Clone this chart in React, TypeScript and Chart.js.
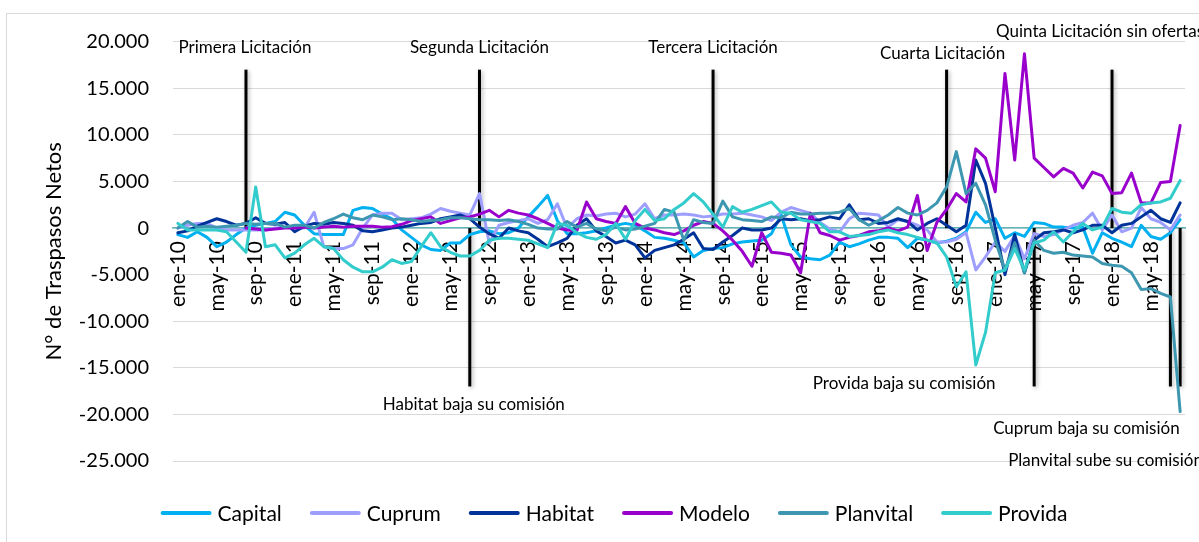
import React, { useEffect, useRef } from "react";
import { Chart, registerables } from "chart.js";

Chart.register(...registerables);

const categories = [
  "ene-10","feb-10","mar-10","abr-10","may-10","jun-10","jul-10","ago-10","sep-10","oct-10","nov-10","dic-10",
  "ene-11","feb-11","mar-11","abr-11","may-11","jun-11","jul-11","ago-11","sep-11","oct-11","nov-11","dic-11",
  "ene-12","feb-12","mar-12","abr-12","may-12","jun-12","jul-12","ago-12","sep-12","oct-12","nov-12","dic-12",
  "ene-13","feb-13","mar-13","abr-13","may-13","jun-13","jul-13","ago-13","sep-13","oct-13","nov-13","dic-13",
  "ene-14","feb-14","mar-14","abr-14","may-14","jun-14","jul-14","ago-14","sep-14","oct-14","nov-14","dic-14",
  "ene-15","feb-15","mar-15","abr-15","may-15","jun-15","jul-15","ago-15","sep-15","oct-15","nov-15","dic-15",
  "ene-16","feb-16","mar-16","abr-16","may-16","jun-16","jul-16","ago-16","sep-16","oct-16","nov-16","dic-16",
  "ene-17","feb-17","mar-17","abr-17","may-17","jun-17","jul-17","ago-17","sep-17","oct-17","nov-17","dic-17",
  "ene-18","feb-18","mar-18","abr-18","may-18","jun-18","jul-18","ago-18",
];

const tickLabels = [
  "ene-10","may-10","sep-10","ene-11","may-11","sep-11","ene-12","may-12","sep-12",
  "ene-13","may-13","sep-13","ene-14","may-14","sep-14","ene-15","may-15","sep-15",
  "ene-16","may-16","sep-16","ene-17","may-17","sep-17","ene-18","may-18",
];

const yTicks = [-25000, -20000, -15000, -10000, -5000, 0, 5000, 10000, 15000, 20000];

const capital = [
  -700, -1000, -400, -1000, -2000, -1500, -700, 0, 300, 500,
  700, 1700, 1400, 300, -600, -700, -700, -700, 1900, 2200,
  2100, 1500, 1000, -200, -1000, -1800, -2300, -2400, -1600, -1600,
  -700, -400, -300, -600, -500, 0, 1200, 2300, 3500, 800,
  -600, -600, -500, -300, 0, 300, 500, 300, -300, -1000,
  -1100, -1300, -1600, -3100, -2400, -2200, -2100, -1700, -1500, -1400,
  -1300, -600, 1400, -1800, -3100, -3300, -3400, -2900, -1500, -2000,
  -1700, -1300, -1000, -1000, -1100, -2100, -1100, -1300, -1600, -1400,
  -1100, -400, 1700, 600, 1000, -1100, -500, -900, 600, 500,
  100, 100, 0, 100, -2700, -500, -1100, -1500, -2000, 300,
  -900, -1200, -500, 900,
];

const cuprum = [
  0, 300, 500, 500, 0, -200, -200, -200, -200, -200,
  0, 100, 0, 0, 1700, -2000, -2200, -2200, -1800, 0,
  1400, 1600, 1600, 900, 1000, 1100, 1500, 2100, 1800, 1600,
  1400, 3700, -1600, 300, 600, 800, 1000, 500, 900, 2600,
  0, 1000, 1400, 1300, 1500, 1600, 1200, 1500, 2600, 1000,
  1400, 1400, 1500, 1400, 1200, 1300, 1500, 1500, 1600, 1400,
  1200, 800, 1700, 2200, 1900, 1600, 600, -100, -400, 1000,
  1600, 1500, 1400, 100, 900, 700, 300, -200, -1500, -1500,
  -1200, -500, -4500, -3100, -1500, -2500, -800, -3300, -600, -900,
  -700, -200, 300, 600, 1600, -200, 1400, -400, 0, 2200,
  1000, 600, -200, 1400,
];

const habitat = [
  -500, -300, 200, 600, 1000, 700, 300, 500, 1100, 500,
  400, 600, -400, 200, 500, 400, 600, 500, 300, -300,
  -400, -200, 0, 100, 300, 500, 600, 1000, 1200, 1400,
  1000, 100, -600, -1100, 0, -300, -500, -1200, -2000, -1600,
  -1100, 300, 1000, -300, -900, -1600, -1300, -1800, -3200, -2400,
  -2100, -1800, -1200, -500, -2200, -2300, -1500, -800, 0, -200,
  -200, 0, 1000, 900, 1000, 800, 900, 1200, 1000, 2500,
  900, 1000, 500, 600, 1000, 700, -200, 500, 1000, 300,
  -400, 300, 7300, 4800, 0, -5000, -700, -4800, -1300, -500,
  -400, -200, -500, -200, 300, 300, -500, 300, 500, 1200,
  1900, 1000, 600, 2700,
];

const modelo = [
  null, null, null, null, null, null, null, 0, -100, -200,
  -100, 0, 0, 100, 0, 100, 200, 100, 200, 200,
  200, 100, 150, 400, 800, 1000, 1200, 500, 800, 1100,
  1200, 1500, 1900, 1200, 1900, 1600, 1400, 1000, 500, 0,
  -200, -300, 2800, 1000, 700, 500, 2300, 500, 0, -200,
  -500, -700, -300, 300, 700, 500, -300, -1300, -2500, -4100,
  -500, -2600, -2700, -2900, -4800, 1600, -500, -800, -1300, -1000,
  -800, -400, -300, 0, -300, 100, 3500, -2400, 600, 2000,
  3700, 2800, 8500, 7500, 3900, 16600, 7300, 18700, 7500, 6500,
  5500, 6400, 5900, 4300, 6000, 5600, 3700, 3800, 5900, 2700,
  2700, 4900, 5000, 11000,
];

const planvital = [
  0, 700, 100, 200, 100, 200, 300, 500, 400, 500,
  500, 100, 300, 300, 0, 600, 1000, 1500, 1100, 900,
  1400, 1200, 900, 1000, 900, 700, 800, 900, 1100, 1100,
  1000, 900, 900, 800, 900, 700, 400, 0, -100, -100,
  700, 100, 500, -100, -300, 100, -200, -100, 200, 500,
  2000, 1700, -1300, 900, 600, 500, 2900, 1200, 900, 800,
  700, 1200, 1100, 1700, 1500, 1500, 1600, 1600, 1700, 2100,
  900, 300, 800, 1400, 2200, 1600, 1400, 1900, 2700, 4400,
  8200, 3700, 4800, 2500, -1300, -4500, -1600, -4800, -1300, -2400,
  -2700, -2600, -2900, -3000, -3100, -3800, -4000, -4100, -4800, -6600,
  -6500, -7000, -7400, -19700,
];

const provida = [
  500, -200, -200, -200, -200, -400, -1500, -2600, 4400, -2000,
  -1800, -3200, -2700, -1800, -1100, -2000, -2200, -3400, -4200, -4700,
  -4700, -4200, -3400, -3800, -3600, -2000, -500, -2000, -2600, -3000,
  -3000, -2400, -1300, -1100, -1100, -1200, -1300, -1700, -2100, 500,
  300, -500, -1000, -1200, -700, 500, -1200, 800, 2000, 800,
  1000, 2000, 2700, 3700, 2800, 1500, 100, 2300, 1700, 2000,
  2400, 2800, 1700, 1600, 900, 700, 500, -400, -400, -900,
  -800, -700, -400, -200, -500, -700, -1000, -1300, -1600, -3100,
  -6300, -4700, -14700, -11200, -4800, -4500, -2200, -4500, -1600, -1300,
  -400, -1500, -400, 500, -200, 100, 2100, 1700, 1600, 2500,
  2700, 2800, 3200, 5100,
];

const seriesNames = ["Capital", "Cuprum", "Habitat", "Modelo", "Planvital", "Provida"];
const seriesValues = [capital, cuprum, habitat, modelo, planvital, provida];
const seriesColors = ["#00B0F0", "#9E9EFF", "#003399", "#9900CC", "#3E97B0", "#33CCCC"];

const annotationMonths = ["ago-10", "ago-12", "ago-14", "ago-16", "ene-18", "jul-12", "may-17", "jul-18", "ago-18"];
const annotationTexts = [
  "Primera Licitación",
  "Segunda Licitación",
  "Tercera Licitación",
  "Cuarta Licitación",
  "Quinta Licitación sin ofertas",
  "Habitat baja su comisión",
  "Provida baja su comisión",
  "Cuprum baja su comisión",
  "Planvital sube su comisión",
];
const annotationEnds = [17000, 17000, 17000, 17000, 17000, -17000, -17000, -17000, -17000];

// label placement (style): horizontal offset from line, baseline y (px), alignment, font size
const annotationLayout = [
  { dx: -1, y: 53, align: "center", size: 17 },
  { dx: 0, y: 53, align: "center", size: 17 },
  { dx: 0, y: 53, align: "center", size: 17 },
  { dx: -4, y: 59, align: "center", size: 17 },
  { dx: -116, y: 37, align: "left", size: 17 },
  { dx: 4, y: 410, align: "center", size: 17 },
  { dx: -130, y: 389, align: "center", size: 17 },
  { dx: -84, y: 434, align: "center", size: 17 },
  { dx: -172, y: 466, align: "left", size: 17 },
];

const FONT = "Lato, 'Noto Sans', sans-serif";

function fmt(v: number): string {
  const s = Math.abs(v).toString().replace(/\B(?=(\d{3})+(?!\d))/g, ".");
  return (v < 0 ? "-" : "") + s;
}

const framePlugin = {
  id: "frame",
  beforeDraw(chart: any) {
    const ctx = chart.ctx;
    ctx.save();
    ctx.fillStyle = "#ffffff";
    ctx.fillRect(0, 0, chart.width, chart.height);
    ctx.strokeStyle = "#d9d9d9";
    ctx.lineWidth = 1;
    ctx.strokeRect(6.5, 13.5, 1400, 800);
    ctx.restore();
  },
};

const annotationPlugin = {
  id: "annotations",
  beforeDatasetsDraw(chart: any) {
    const { ctx, scales } = chart;
    const x = scales.x;
    const y = scales.y;
    ctx.save();
    ctx.strokeStyle = "#000000";
    ctx.lineWidth = 3;
    ctx.shadowColor = "rgba(0,0,0,0.3)";
    ctx.shadowBlur = 4;
    ctx.shadowOffsetX = 1.5;
    ctx.shadowOffsetY = 1.5;
    annotationMonths.forEach((m, i) => {
      const px = x.getPixelForValue(categories.indexOf(m));
      ctx.beginPath();
      ctx.moveTo(px, y.getPixelForValue(0));
      ctx.lineTo(px, y.getPixelForValue(annotationEnds[i]));
      ctx.stroke();
    });
    ctx.restore();
  },
  afterDraw(chart: any) {
    const { ctx, scales } = chart;
    const x = scales.x;
    ctx.save();
    ctx.fillStyle = "#000000";
    ctx.textBaseline = "alphabetic";
    annotationTexts.forEach((t, i) => {
      const lay = annotationLayout[i];
      const px = x.getPixelForValue(categories.indexOf(annotationMonths[i]));
      ctx.font = `${lay.size}px ${FONT}`;
      ctx.textAlign = lay.align;
      ctx.fillText(t, px + lay.dx, lay.y);
    });
    ctx.restore();
  },
};

const legendPlugin = {
  id: "customLegend",
  afterDraw(chart: any) {
    const ctx = chart.ctx;
    const ds = chart.data.datasets;
    ctx.save();
    ctx.font = `21px ${FONT}`;
    const lineLen = 51;
    const gapText = 6;
    const gapItem = 28;
    const widths = ds.map((d: any) => ctx.measureText(d.label).width);
    const total =
      widths.reduce((a: number, w: number) => a + lineLen + gapText + w, 0) + gapItem * (ds.length - 1);
    let cx = 614 - total / 2;
    const cy = 513;
    ctx.textBaseline = "middle";
    ctx.textAlign = "left";
    ds.forEach((d: any, i: number) => {
      ctx.strokeStyle = d.borderColor;
      ctx.lineWidth = 4;
      ctx.lineCap = "round";
      ctx.beginPath();
      ctx.moveTo(cx + 2, cy);
      ctx.lineTo(cx + lineLen - 2, cy);
      ctx.stroke();
      ctx.fillStyle = "#000000";
      ctx.fillText(d.label, cx + lineLen + gapText, cy + 1);
      cx += lineLen + gapText + widths[i] + gapItem;
    });
    ctx.restore();
  },
};

export default function App() {
  const canvasRef = useRef<HTMLCanvasElement | null>(null);

  useEffect(() => {
    if (!canvasRef.current) return;
    const datasets = seriesNames.map((name, i) => ({
      label: name,
      data: seriesValues[i],
      borderColor: seriesColors[i],
      backgroundColor: seriesColors[i],
      borderWidth: 3,
      pointRadius: 0,
      tension: 0,
      fill: false,
      borderJoinStyle: "round" as const,
      borderCapStyle: "round" as const,
      order: seriesNames.length - i,
    }));

    const chart = new Chart(canvasRef.current, {
      type: "line",
      data: { labels: categories, datasets },
      options: {
        responsive: false,
        animation: false,
        layout: { padding: { left: 0, right: 14, top: 41.7, bottom: 81 } },
        plugins: {
          legend: { display: false },
          tooltip: { enabled: false },
          title: { display: false },
        },
        scales: {
          x: {
            type: "category",
            position: { y: 0 } as any,
            offset: true,
            afterFit: (scale: any) => {
              scale.paddingLeft = 0;
              scale.paddingRight = 0;
              scale.paddingTop = 0;
              scale.paddingBottom = 0;
            },
            grid: { display: false, drawTicks: false },
            border: { display: true, color: "#63b5b8", width: 1.5 },
            ticks: {
              autoSkip: false,
              minRotation: 90,
              maxRotation: 90,
              padding: 13,
              color: "#000000",
              font: { family: FONT, size: 21 },
              callback: (_v: any, i: number) => (tickLabels.includes(categories[i]) ? categories[i] : ""),
            },
          },
          y: {
            type: "linear",
            min: yTicks[0],
            max: yTicks[yTicks.length - 1],
            afterBuildTicks: (scale: any) => {
              scale.ticks = yTicks.map((v) => ({ value: v }));
            },
            afterFit: (scale: any) => {
              scale.width = 173;
            },
            grid: { color: "#d9d9d9", lineWidth: 1, drawTicks: false },
            border: { display: false },
            ticks: {
              padding: 24,
              color: "#000000",
              font: { family: FONT, size: 20 },
              callback: (v: any) => fmt(Number(v)),
            },
            title: {
              display: true,
              text: "N° de Traspasos Netos",
              color: "#000000",
              font: { family: FONT, size: 22 },
              padding: { top: 41, bottom: 0 },
            },
          },
        },
      },
      plugins: [framePlugin, annotationPlugin, legendPlugin],
    });

    return () => chart.destroy();
  }, []);

  return (
    <div style={{ position: "fixed", left: 0, top: 0, width: 1199, height: 542, background: "#fff" }}>
      <canvas ref={canvasRef} width={1199} height={542} style={{ display: "block" }} />
    </div>
  );
}
